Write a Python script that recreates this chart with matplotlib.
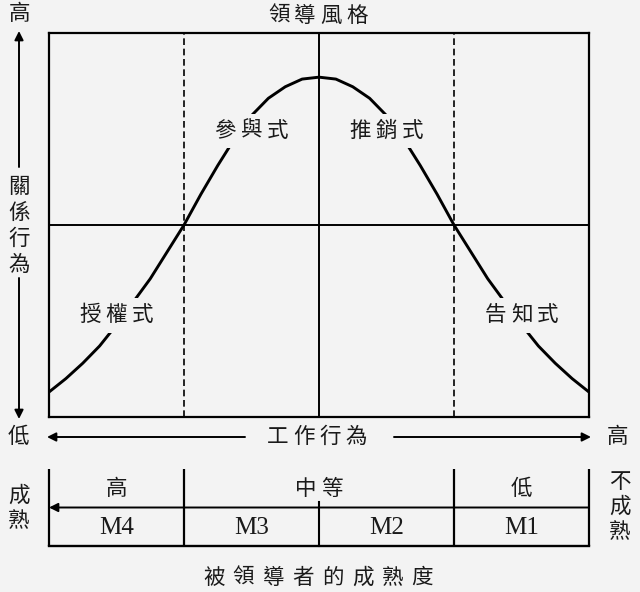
import matplotlib
matplotlib.use('Agg')
import matplotlib.pyplot as plt
from matplotlib.patches import Rectangle

plt.rcParams['font.family'] = ['Noto Sans CJK TC', 'DejaVu Sans']

BG = '#f3f3f3'
TXT = '#1a1a1a'
FS = 15.5

# ---------------- data ----------------
# task behaviour (x, 0..4 low->high) vs relationship behaviour (y, 0..2)
curve_x = [0.0, 0.125, 0.25, 0.375, 0.5, 0.625, 0.75, 0.875, 1.0, 1.125, 1.25,
           1.375, 1.5, 1.625, 1.75, 1.875, 2.0, 2.125, 2.25, 2.375, 2.5, 2.625,
           2.75, 2.875, 3.0, 3.125, 3.25, 3.375, 3.5, 3.625, 3.75, 3.875, 4.0]
curve_y = [0.13, 0.20, 0.28, 0.37, 0.48, 0.60, 0.72, 0.86, 1.00, 1.16, 1.31,
           1.45, 1.57, 1.66, 1.72, 1.76, 1.77, 1.76, 1.72, 1.66, 1.57, 1.45,
           1.31, 1.16, 1.00, 0.86, 0.72, 0.60, 0.48, 0.37, 0.28, 0.20, 0.13]
dashed_x = [1, 3]
solid_x = [2]
mid_y = 1
style_labels = ['授權式', '參與式', '推銷式', '告知式']
style_x = [0.5, 1.5, 2.5, 3.5]
style_y = [0.53, 1.49, 1.49, 0.53]
maturity_groups = ['高', '中等', '低']
group_spans = [(0, 1), (1, 3), (3, 4)]
maturity_levels = ['M4', 'M3', 'M2', 'M1']
level_x = [0.5, 1.5, 2.5, 3.5]

W, H = 640, 592
fig = plt.figure(figsize=(W / 100, H / 100), dpi=100, facecolor=BG)


def fx(px):
    return px / W


def fy(py):
    return 1 - py / H


# ---------------- main quadrant chart ----------------
ax = fig.add_axes([fx(49), fy(417), fx(589) - fx(49), fy(33) - fy(417)])
ax.set_facecolor(BG)
ax.set_xlim(0, 4)
ax.set_ylim(0, 2)
ax.set_xticks([])
ax.set_yticks([])
for s in ax.spines.values():
    s.set_linewidth(1.6)
    s.set_color('black')
ax.axhline(mid_y, color='black', lw=1.4)
for xv in solid_x:
    ax.axvline(xv, color='black', lw=1.4)
for xv in dashed_x:
    ax.axvline(xv, color='black', lw=1.2, dashes=(4, 2.2))
ax.plot(curve_x, curve_y, color='black', lw=2.1, solid_capstyle='butt', zorder=2)

for lab, xv, yv in zip(style_labels, style_x, style_y):
    # background patch that breaks the curve under the label
    ax.add_patch(Rectangle((xv - 0.31, yv - 0.09), 0.62, 0.18, fc=BG, ec='none', zorder=3))
    n = len(lab)
    for i, ch in enumerate(lab):
        ax.annotate(ch, xy=(xv, yv), xytext=((i - (n - 1) / 2) * 18.8, 0),
                    textcoords='offset points', ha='center', va='center',
                    fontsize=FS, color=TXT, zorder=5)

# ---------------- maturity box ----------------
bx = fig.add_axes([fx(49), fy(546), fx(589) - fx(49), fy(469) - fy(546)])
bx.set_xlim(0, 4)
bx.set_ylim(0, 1)
bx.axis('off')
bx.patch.set_alpha(0)
edges = sorted(set([e for sp in group_spans for e in sp]))
for e in edges:
    bx.plot([e, e], [0, 1], color='black', lw=1.6, clip_on=False, solid_capstyle='butt')
bx.plot([2, 2], [0, 0.57], color='black', lw=1.5, clip_on=False)
bx.plot([0, 4], [0, 0], color='black', lw=1.7, clip_on=False, solid_capstyle='projecting')
bx.annotate('', xy=(0, 0.50), xytext=(4, 0.50),
            arrowprops=dict(arrowstyle='-|>', lw=1.4, color='black',
                            mutation_scale=13, shrinkA=0, shrinkB=0))
for lab, (a, b) in zip(maturity_groups, group_spans):
    xc = (a + b) / 2
    n = len(lab)
    for i, ch in enumerate(lab):
        bx.annotate(ch, xy=(xc, 0.74), xytext=((i - (n - 1) / 2) * 18.8, 0),
                    textcoords='offset points', ha='center', va='center',
                    fontsize=FS, color=TXT)
for lab, xv in zip(maturity_levels, level_x):
    bx.text(xv, 0.23, lab, fontsize=18, family='Liberation Serif',
            ha='center', va='center', color=TXT)

# ---------------- overlay for axis titles and arrows ----------------
ov = fig.add_axes([0, 0, 1, 1])
ov.set_xlim(0, W)
ov.set_ylim(H, 0)
ov.axis('off')
ov.patch.set_alpha(0)


def spaced(x, y, s, step, size=FS, color=TXT):
    n = len(s)
    for i, ch in enumerate(s):
        ov.text(x + (i - (n - 1) / 2) * step, y, ch, ha='center', va='center',
                fontsize=size, color=color)


def vspaced(x, y0, s, step, size=FS, color=TXT):
    for i, ch in enumerate(s):
        ov.text(x, y0 + i * step, ch, ha='center', va='center', fontsize=size, color=color)


def arrow(x0, y0, x1, y1):
    ov.annotate('', xy=(x1, y1), xytext=(x0, y0),
                arrowprops=dict(arrowstyle='-|>', lw=1.4, color='black',
                                mutation_scale=13, shrinkA=0, shrinkB=0))


spaced(318, 16, '領導風格', 26)
# vertical axis
ov.text(19, 14, '高', ha='center', va='center', fontsize=FS, color=TXT)
vspaced(19, 187, '關係行為', 26)
arrow(19, 167, 19, 31)
arrow(19, 278, 19, 419)
# horizontal axis
ov.text(18, 437, '低', ha='center', va='center', fontsize=FS, color=TXT)
ov.text(617, 437, '高', ha='center', va='center', fontsize=FS, color=TXT)
spaced(317, 437, '工作行為', 26)
arrow(245, 437, 47, 437)
arrow(394, 437, 591, 437)
# maturity side labels
vspaced(19, 496, '成熟', 25)
vspaced(620, 482, '不成熟', 25)
spaced(318, 578, '被領導者的成熟度', 29.8)

fig.savefig('out.png', dpi=100, facecolor=BG)
